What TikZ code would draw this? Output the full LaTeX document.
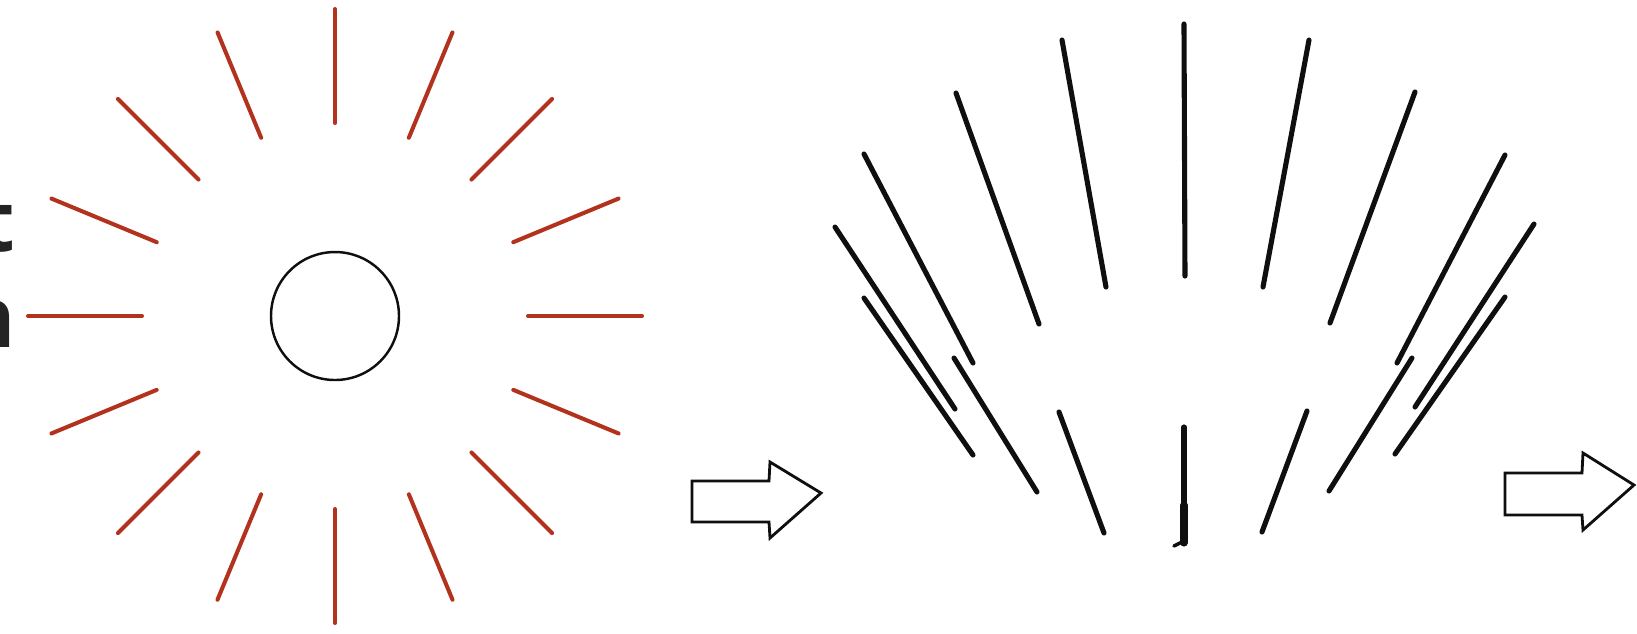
\documentclass[tikz,border=0pt]{standalone}
\usepackage{fontspec}
\setmainfont{Open Sans}
\usetikzlibrary{calc}
\definecolor{ray}{RGB}{178,50,30}
\definecolor{ink}{RGB}{15,15,15}
\definecolor{textgray}{RGB}{35,35,35}
\begin{document}
\begin{tikzpicture}[x=0.1mm,y=-0.1mm,
  redray/.style={draw=ray,line width=1.15pt,line cap=round},
  fanline/.style={draw=ink,line width=1.45pt,line cap=round},
  blockarrow/.style={draw=ink,line width=0.8pt,fill=white,line join=miter},
  cuttext/.style={font=\fontsize{24}{28}\selectfont\bfseries,text=textgray,inner sep=0pt,anchor=base east}]
\useasboundingbox (0,0) rectangle (1637,633);
\clip (0,0) rectangle (1637,633);

% partially visible text at the left edge
\node[cuttext] (txt1) at (16,251) {t};
\node[cuttext] (txt2) at (17,347) {n};

% sun with rays
\node[circle,draw=ink,line width=0.7pt,minimum size=12.8mm,inner sep=0pt] (sun) at (335,316) {};
\foreach \a in {0,22.5,...,337.5}
  \draw[redray] ($(sun.center)+(\a:193)$) -- ($(sun.center)+(\a:307)$);

% first block arrow
\draw[blockarrow] (692,481) -- (769,481) -- (770,462) -- (821,493) -- (770,538) -- (769,522) -- (692,522) -- cycle;

% fan of black lines
\draw[fanline] (1184,24) -- (1185,276);
\draw[fanline] (1062,40) -- (1106,287);
\draw[fanline] (956,93) -- (1039,324);
\draw[fanline] (864,154) -- (973,363);
\draw[fanline] (835,227) -- (955,409);
\draw[fanline] (864,298) -- (973,455);
\draw[fanline] (954,358) -- (1037,492);
\draw[fanline] (1059,412) -- (1104,533);
\draw[fanline] (1184,427) -- (1184,543);
\draw[fanline,line width=2pt] (1184,505) -- (1184,543);
\draw[fanline,line width=1pt] (1184,541) -- (1174,546);
\draw[fanline] (1307,411) -- (1262,532);
\draw[fanline] (1412,358) -- (1329,491);
\draw[fanline] (1505,297) -- (1395,454);
\draw[fanline] (1534,224) -- (1415,407);
\draw[fanline] (1505,155) -- (1397,363);
\draw[fanline] (1415,92) -- (1330,323);
\draw[fanline] (1309,40) -- (1263,287);

% second block arrow
\draw[blockarrow] (1505,473) -- (1582,473) -- (1583,453) -- (1634,485) -- (1583,530) -- (1582,515) -- (1505,515) -- cycle;
\end{tikzpicture}
\end{document}
